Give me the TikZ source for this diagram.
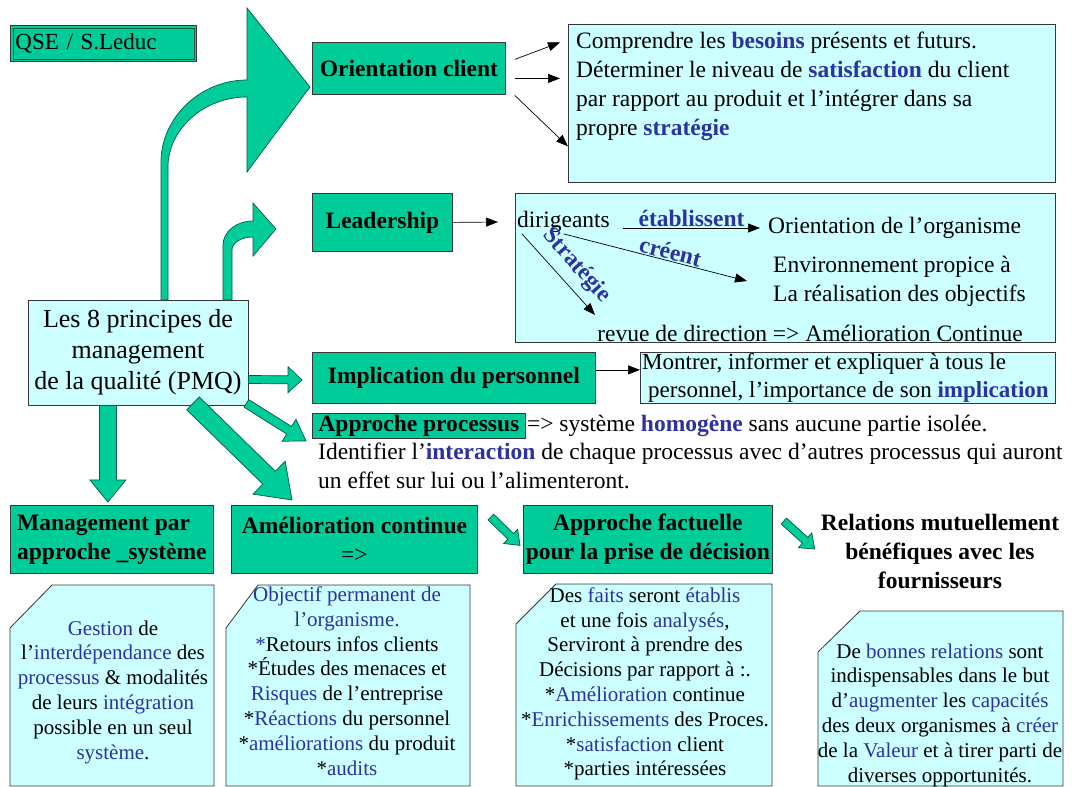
\documentclass[tikz,border=0pt]{standalone}
\usepackage{fontspec}
\setmainfont{Liberation Serif}
\usetikzlibrary{arrows.meta,positioning,calc}
\definecolor{qsegreen}{RGB}{0,204,153}
\definecolor{qsecyan}{RGB}{204,255,255}
\definecolor{qseblue}{RGB}{45,50,160}
\definecolor{qseline}{RGB}{55,55,55}
\definecolor{qsedark}{RGB}{0,90,70}
\newcommand{\kw}[1]{\textcolor{qseblue}{\textbf{#1}}}
\newcommand{\kwn}[1]{\textcolor{qseblue}{#1}}
% fat arrow: from, to, half stem, half head, head length
\newcommand{\fatarrow}[5]{%
  \coordinate (fa-h) at ($(#2)!#5!(#1)$);
  \filldraw[fatarr] ($(#1)!#3!90:(#2)$) -- ($(fa-h)!#3!90:(#2)$)
    -- ($(fa-h)!#4!90:(#2)$) -- (#2) -- ($(fa-h)!#4!-90:(#2)$)
    -- ($(fa-h)!#3!-90:(#2)$) -- ($(#1)!#3!-90:(#2)$) -- cycle;}

\begin{document}
\begin{tikzpicture}[x=1pt, y=-1pt,
  every node/.style={font=\fontsize{23.5}{29}\selectfont, inner sep=2pt},
  greenbox/.style={rectangle, draw=qseline, line width=0.8pt, fill=qsegreen,
    align=center, font=\fontsize{23.5}{29}\selectfont\bfseries},
  cyanbox/.style={rectangle, draw=qseline, line width=0.8pt, fill=qsecyan},
  notebox/.style={draw=qseline, line width=0.8pt, fill=qsecyan},
  notetext/.style={align=center, font=\fontsize{21}{24.8}\selectfont},
  lbl/.style={text=qseblue, font=\fontsize{23.5}{29}\selectfont\bfseries},
  arr/.style={-{Triangle[length=12pt,width=9pt]}, line width=0.7pt},
  fatarr/.style={draw=qsedark, line width=0.7pt, fill=qsegreen},
]
  \fill[white] (0,0) rectangle (1082,787);
  \useasboundingbox (0,0) rectangle (1082,787);

  % curved arrows
  \filldraw[fatarr] (161,300) -- (161,162) .. controls (161,118) and (200,80) .. (247,80)
    -- (247,8) -- (310,87) -- (247,172) -- (247,97)
    .. controls (203,97) and (168,130) .. (168,167) -- (168,300) -- cycle;
  \filldraw[fatarr] (223,300) -- (223,245) .. controls (223,232) and (236,221) .. (253,221)
    -- (253,203) -- (276,229) -- (253,256) -- (253,237)
    .. controls (241,237) and (232,243) .. (232,250) -- (232,300) -- cycle;

  % Nodes
  \node[rectangle, draw=qseline, line width=1pt, fill=qsegreen, minimum width=186,
    minimum height=36, anchor=north west, font=\fontsize{23}{28}\selectfont,
    align=left, text width=176] (qse) at (10,25) {QSE / S.Leduc};
  \draw[qsedark, line width=0.8pt] ($(qse.north west)+(3,3)$) rectangle ($(qse.south east)+(-3,-3)$);

  \node[greenbox, minimum width=193, minimum height=52, anchor=north west] (orient) at (312,42) {Orientation client};
  \node[cyanbox, minimum width=487, minimum height=158, anchor=north west] (besoinsbox) at (568,24) {};
  \node[anchor=west, align=left] (besoins) at (574,86) {Comprendre les \kw{besoins} présents et futurs.\\
    Déterminer le niveau de \kw{satisfaction} du client\\
    par rapport au produit et l’intégrer dans sa\\
    propre \kw{stratégie}};

  \node[greenbox, minimum width=140, minimum height=58, anchor=north west] (lead) at (312,193) {Leadership};
  \node[cyanbox, minimum width=540, minimum height=149, anchor=north west] (leadbox) at (515,193) {};
  \node[anchor=west, inner sep=1pt] (dirig) at (516,222) {dirigeants};
  \node[anchor=west] (orgn) at (766,228) {Orientation de l’organisme};
  \node[anchor=west, align=left] (envir) at (771,281) {Environnement propice à\\La réalisation des objectifs};
  \node (revue) at (810,333) {revue de direction => Amélioration Continue};
  \coordinate (stratend) at (595,315);

  \node[cyanbox, minimum width=220, minimum height=105, align=center,
    font=\fontsize{26}{31}\selectfont] (pmq) at (138,352.5) {Les 8 principes de\\management\\de la qualité (PMQ)};

  \node[greenbox, minimum width=283, minimum height=51, anchor=north west] (impl) at (312,352) {Implication du personnel};
  \node[cyanbox, minimum width=415, minimum height=51, anchor=north west] (implt) at (640,352) {};
  \node[anchor=west, align=left, inner sep=1pt, font=\fontsize{23}{28.5}\selectfont] (impltext) at (641,378) {Montrer, informer et expliquer à tous le\\
    \hspace{6pt}personnel, l’importance de son \kw{implication}};

  \node[greenbox, minimum width=213, minimum height=25, anchor=north west, inner sep=0pt] (appro) at (312,413) {Approche processus};
  \node[anchor=west, inner sep=1pt] (homog) at (appro.east) {=> système \kw{homogène} sans aucune partie isolée.};
  \node[anchor=north west, align=left] (interac) at (316,441) {Identifier l’\kw{interaction} de chaque processus avec d’autres processus qui auront\\
    un effet sur lui ou l’alimenteront.};

  \node[greenbox, minimum width=203, minimum height=68, anchor=north west, align=left] (mgmt) at (10,505) {Management par\\approche \_système};
  \node[greenbox, minimum width=246, minimum height=68, anchor=north west] (amel) at (231,505) {Amélioration continue\\\mdseries =>};
  \node[greenbox, minimum width=249, minimum height=68, anchor=north west] (fact) at (523,505) {Approche factuelle\\pour la prise de décision};
  \node[align=center, font=\fontsize{23.5}{29}\selectfont\bfseries] (relat) at (940,551) {Relations mutuellement\\bénéfiques avec les\\fournisseurs};

  % notes
  \filldraw[notebox] (10,786) -- (10,628) -- (52,585) -- (214,585) -- (214,786) -- cycle;
  \node[notetext] (gestion) at (113,692) {\kwn{Gestion} de\\l’\kwn{interdépendance} des\\
    \kwn{processus} \& modalités\\de leurs \kwn{intégration}\\possible en un seul\\\kwn{système}.};
  \filldraw[notebox] (226,786) -- (226,628) -- (258,585) -- (470,585) -- (470,786) -- cycle;
  \node[notetext] (objectif) at (347,681) {\kwn{Objectif permanent de}\\\kwn{l’organisme.}\\
    \kwn{*}Retours infos clients\\*Études des menaces et\\\kwn{Risques} de l’entreprise\\
    *\kwn{Réactions} du personnel\\*\kwn{améliorations} du produit\\*\kwn{audits}};
  \filldraw[notebox] (516,786) -- (516,624) -- (556,584) -- (772,584) -- (772,786) -- cycle;
  \node[notetext] (faits) at (645,684) {Des \kwn{faits} seront \kwn{établis}\\et une fois \kwn{analysés},\\
    Serviront à prendre des\\Décisions par rapport à :.\\*\kwn{Amélioration} continue\\
    *\kwn{Enrichissements} des Proces.\\*\kwn{satisfaction} client\\*parties intéressées};
  \filldraw[notebox] (818,786) -- (818,652) -- (860,611) -- (1063,611) -- (1063,786) -- cycle;
  \node[notetext] (bonnes) at (940,715) {De \kwn{bonnes relations} sont\\indispensables dans le but\\
    d’\kwn{augmenter} les \kwn{capacités}\\des deux organismes à \kwn{créer}\\
    de la \kwn{Valeur} et à tirer parti de\\diverses opportunités.};

  % Edges
  \draw[arr] ($(orient.east)+(9,-9)$) -- ($(besoinsbox.west)+(-8,-61)$);
  \draw[arr] ($(orient.east)+(9,10)$) -- ($(besoinsbox.west)+(-8,-25)$);
  \draw[arr] ($(orient.east)+(9,27)$) -- ($(besoinsbox.west)+(0,43)$);
  \draw[arr] (lead.east) -- ($(dirig.west)+(-18,0)$);
  \draw[arr] ($(dirig.east)+(12,6)$) -- node[lbl, above, inner sep=1pt] {établissent} ($(orgn.west)+(-6,0)$);
  \draw[arr] (dirig.south) -- node[lbl, above, sloped, pos=0.57, inner sep=1pt] {créent} ($(envir.west)+(-24,0)$);
  \draw[arr] ($(dirig.south west)+(6,0)$) -- node[lbl, above, sloped, pos=0.55, inner sep=8pt] {Stratégie} (stratend);
  \draw[arr] ($(impl.east)+(0,-8)$) -- ($(implt.west)+(0,-8)$);

  % fat arrows
  \coordinate (f1s) at ($(pmq.east)+(0,27)$);
  \coordinate (f1e) at ($(impl.west)+(-10,2)$);
  \fatarrow{f1s}{f1e}{4pt}{13pt}{14pt}
  \coordinate (f2s) at ($(pmq.south east)+(-2,-2)$);
  \coordinate (f2e) at ($(appro.west)+(-6,15)$);
  \fatarrow{f2s}{f2e}{4.5pt}{13pt}{20pt}
  \coordinate (f3s) at ($(pmq.south)+(55,-2)$);
  \coordinate (f3e) at ($(amel.north west)+(61,-5)$);
  \fatarrow{f3s}{f3e}{9pt}{23pt}{32pt}
  \coordinate (f4s) at ($(pmq.south)+(-30,0)$);
  \coordinate (f4e) at ($(mgmt.north)+(-4,-3)$);
  \fatarrow{f4s}{f4e}{8.5pt}{18pt}{22pt}
  \coordinate (f5s) at ($(amel.north east)+(13,12)$);
  \coordinate (f5e) at ($(fact.west)+(-3,6)$);
  \fatarrow{f5s}{f5e}{4pt}{10pt}{13pt}
  \coordinate (f6s) at ($(fact.north east)+(11,16)$);
  \coordinate (f6e) at ($(relat.west)+(-4,-2)$);
  \fatarrow{f6s}{f6e}{4pt}{10pt}{13pt}
\end{tikzpicture}
\end{document}
